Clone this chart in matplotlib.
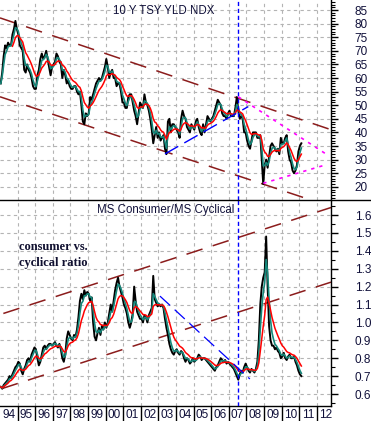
import numpy as np
import pandas as pd
import matplotlib
matplotlib.use("Agg")
import matplotlib.pyplot as plt
from matplotlib.lines import Line2D
from matplotlib.ticker import (MultipleLocator, FixedLocator, FixedFormatter,
                               FormatStrFormatter, NullFormatter)

# 10 year treasury yield x10, monthly, Jan 1994 - Feb 2011
tsy_yield = [
    58, 62, 68, 72, 71, 73, 72, 72, 76, 78, 81, 78,   # 1994
    76, 72, 71, 70, 63, 62, 65, 63, 62, 60, 57, 56,   # 1995
    56, 61, 63, 67, 69, 67, 68, 70, 67, 64, 61, 64,   # 1996
    65, 66, 69, 68, 66, 65, 60, 63, 61, 58, 59, 57,   # 1997
    56, 56, 57, 57, 55, 54, 55, 50, 44, 43, 47, 46,   # 1998
    47, 53, 52, 54, 56, 58, 59, 60, 59, 60, 62, 64,   # 1999
    67, 64, 60, 62, 63, 60, 60, 57, 58, 58, 55, 51,   # 2000
    51, 49, 49, 53, 54, 54, 51, 48, 46, 43, 47, 51,   # 2001
    50, 49, 54, 51, 50, 48, 45, 41, 36, 39, 42, 38,   # 2002
    40, 37, 38, 39, 34, 32, 44, 45, 40, 43, 43, 42,   # 2003
    41, 40, 38, 45, 48, 46, 45, 42, 41, 40, 43, 42,   # 2004
    41, 44, 45, 42, 40, 39, 43, 40, 43, 46, 45, 44,   # 2005
    45, 46, 48, 50, 52, 51, 50, 47, 46, 46, 45, 47,   # 2006
    48, 46, 46, 46, 49, 53, 48, 45, 46, 45, 40, 40,   # 2007
    37, 35, 34, 37, 40, 40, 40, 38, 38, 39, 30, 21,   # 2008
    28, 30, 27, 31, 35, 36, 35, 34, 33, 34, 32, 38,   # 2009
    36, 36, 38, 39, 33, 30, 29, 26, 25, 26, 28, 33,   # 2010
    35, 36,                                           # 2011
]

# MS Consumer / MS Cyclical ratio, monthly, Jan 1994 - Feb 2011
cons_cyc = [
    0.64, 0.63, 0.65, 0.66, 0.67, 0.68, 0.70, 0.69, 0.71, 0.73, 0.75, 0.76,  # 1994
    0.78, 0.77, 0.73, 0.71, 0.74, 0.76, 0.79, 0.80, 0.78, 0.82, 0.84, 0.86,  # 1995
    0.85, 0.80, 0.76, 0.78, 0.82, 0.86, 0.87, 0.85, 0.87, 0.88, 0.88, 0.87,  # 1996
    0.88, 0.89, 0.87, 0.86, 0.88, 0.85, 0.80, 0.78, 0.82, 0.91, 0.95, 0.93,  # 1997
    0.91, 0.90, 0.93, 0.92, 0.96, 1.03, 1.12, 1.16, 1.13, 1.18, 1.15, 1.17,  # 1998
    1.16, 1.12, 1.14, 1.00, 0.92, 0.90, 0.94, 0.97, 0.93, 0.98, 0.96, 1.00,  # 1999
    0.97, 1.00, 1.05, 1.10, 1.06, 1.12, 1.18, 1.22, 1.25, 1.20, 1.17, 1.14,  # 2000
    1.10, 1.08, 1.05, 1.00, 0.97, 1.00, 1.05, 1.20, 1.12, 1.06, 1.04, 1.02,  # 2001
    1.02, 1.00, 1.04, 1.03, 1.00, 1.04, 1.06, 1.08, 1.26, 1.13, 1.11, 1.09,  # 2002
    1.10, 1.09, 1.10, 1.08, 1.02, 0.97, 0.93, 0.88, 0.85, 0.83, 0.82, 0.84,  # 2003
    0.85, 0.83, 0.82, 0.84, 0.83, 0.80, 0.78, 0.80, 0.79, 0.77, 0.78, 0.80,  # 2004
    0.78, 0.79, 0.80, 0.82, 0.81, 0.79, 0.80, 0.80, 0.79, 0.78, 0.77, 0.76,  # 2005
    0.75, 0.74, 0.73, 0.75, 0.76, 0.78, 0.80, 0.79, 0.78, 0.79, 0.77, 0.78,  # 2006
    0.77, 0.76, 0.75, 0.74, 0.72, 0.70, 0.68, 0.71, 0.73, 0.72, 0.75, 0.77,  # 2007
    0.75, 0.73, 0.72, 0.74, 0.73, 0.72, 0.74, 0.78, 0.90, 1.10, 1.20, 1.25,  # 2008
    1.28, 1.48, 1.20, 0.98, 0.90, 0.87, 0.87, 0.85, 0.86, 0.84, 0.83, 0.80,  # 2009
    0.81, 0.83, 0.80, 0.79, 0.81, 0.82, 0.80, 0.80, 0.81, 0.78, 0.76, 0.73,  # 2010
    0.71, 0.70,                                                              # 2011
]

year_labels = ['94', '95', '96', '97', '98', '99', '00', '01', '02', '03',
               '04', '05', '06', '07', '08', '09', '10', '11', '12']

# hand-drawn trend lines: (x pair, y pair)
tsy_chan_hi = ([1994.0, 2012.81], [82.1, 41.0])
tsy_chan_lo = ([1994.0, 2012.81], [53.1, 12.7])
tsy_support = ([2003.375, 2008.11], [32.1, 49.5])
tsy_wedge_hi = ([2007.54, 2012.47], [53.1, 32.3])
tsy_wedge_lo = ([2008.96, 2012.47], [21.3, 28.0])
ratio_chan_hi = ([1994.19, 2012.81], [1.05, 1.642])
ratio_chan_lo = ([1994.1, 2012.81], [0.63, 1.225])
ratio_down = ([2003.09, 2008.2], [1.147, 0.684])
marker_year = 2007.54

months = pd.date_range('1994-01-01', periods=len(tsy_yield), freq='MS')
x = np.asarray(months.year + (months.month - 1) / 12 + 1 / 24)

tsy = pd.Series(tsy_yield, dtype=float)
tsy_fast = tsy.ewm(alpha=0.5).mean()
tsy_slow = tsy.ewm(alpha=0.2).mean()
tsy_slow[:8] = np.nan
rat = pd.Series(cons_cyc, dtype=float)
rat_fast = rat.ewm(alpha=0.5).mean()
rat_slow = rat.ewm(alpha=0.2).mean()

W, H = 371, 421
fig = plt.figure(figsize=(W / 100, H / 100), dpi=100)
fig.patch.set_facecolor('white')
plt.rcParams['font.family'] = ['Liberation Sans', 'DejaVu Sans']

ax1 = fig.add_axes([0, 1 - 200 / H, 331 / W, 200 / H])
ax2 = fig.add_axes([0, 1 - 406 / H, 331 / W, 206 / H])

grid_kw = dict(color='#b4b4b4', linestyle=(0, (3, 3)), linewidth=0.8)
maroon = '#8b1c1c'
chan_style = (0, (11, 7))
txt_col = '#10103a'

for ax in (ax1, ax2):
    ax.set_xlim(1994.0, 2012.81)
    ax.xaxis.set_major_locator(FixedLocator(np.arange(1995, 2013)))
    ax.yaxis.tick_right()
    for s in ('left', 'top'):
        ax.spines[s].set_visible(False)
    ax.spines['right'].set_linewidth(1.0)
    ax.grid(True, which='major', **grid_kw)
    ax.set_axisbelow(True)
    ax.tick_params(axis='y', which='major', length=5, width=1, pad=12,
                   labelsize=8.5, labelcolor=txt_col)
    ax.tick_params(axis='y', which='minor', length=3, width=0.8)
    ax.axvline(marker_year, color='#0000ff', lw=1.0, linestyle=(0, (3, 2)), zorder=5)

# top panel: 10y yield
ax1.set_ylim(15.15, 88.68)
ax1.yaxis.set_major_locator(MultipleLocator(5))
ax1.yaxis.set_minor_locator(MultipleLocator(1))
ax1.spines['bottom'].set_visible(False)
ax1.tick_params(axis='x', length=0, labelbottom=False)

ax1.plot(*tsy_chan_hi, color=maroon, lw=1.1, linestyle=chan_style, zorder=2)
ax1.plot(*tsy_chan_lo, color=maroon, lw=1.1, linestyle=chan_style, zorder=2)
ax1.plot(x, tsy, color='black', lw=1.4, zorder=3)
ax1.plot(x, tsy_fast, color='#15877a', lw=1.2, zorder=4)
ax1.plot(x, tsy_slow, color='#ff0000', lw=1.1, zorder=4)
ax1.plot(*tsy_support, color='#0000ff', lw=1.0, linestyle=(0, (11, 5)), zorder=5)
ax1.plot(*tsy_wedge_hi, color='#ff00ff', lw=1.2, linestyle=(0, (2, 3)), zorder=5)
ax1.plot(*tsy_wedge_lo, color='#ff00ff', lw=1.2, linestyle=(0, (2, 3)), zorder=5)
ax1.text(0.495, 0.945, '10 Y TSY YLD NDX', transform=ax1.transAxes,
         ha='center', va='center', fontsize=8.3, color=txt_col)

# bottom panel: consumer / cyclical ratio
ax2.set_ylim(0.533, 1.684)
ax2.yaxis.set_major_locator(MultipleLocator(0.1))
ax2.yaxis.set_minor_locator(MultipleLocator(0.05))
ax2.yaxis.set_major_formatter(FormatStrFormatter('%.1f'))
ax2.spines['bottom'].set_linewidth(1.0)
ax2.xaxis.set_minor_locator(FixedLocator(np.arange(1994.5, 2013)))
ax2.xaxis.set_major_formatter(NullFormatter())
ax2.xaxis.set_minor_formatter(FixedFormatter(year_labels))
ax2.tick_params(axis='x', which='major', length=15, width=1, direction='out')
ax2.tick_params(axis='x', which='minor', length=0, pad=2, labelsize=8.5,
                labelcolor=txt_col)

ax2.plot(*ratio_chan_hi, color=maroon, lw=1.1, linestyle=chan_style, zorder=2)
ax2.plot(*ratio_chan_lo, color=maroon, lw=1.1, linestyle=chan_style, zorder=2)
ax2.plot(x, rat, color='black', lw=1.4, zorder=3)
ax2.plot(x, rat_fast, color='#15877a', lw=1.2, zorder=4)
ax2.plot(x, rat_slow, color='#ff0000', lw=1.1, zorder=4)
ax2.plot(*ratio_down, color='#0000ff', lw=0.9, linestyle=(0, (11, 5)), zorder=5)
ax2.text(0.5015, 0.951, 'MS Consumer/MS Cyclical', transform=ax2.transAxes,
         ha='center', va='center', fontsize=8.3, color=txt_col)
ax2.text(0.057, 0.772, 'consumer vs.', transform=ax2.transAxes, ha='left', va='center',
         fontsize=9, fontweight='bold', family='Liberation Serif', color='#101030')
ax2.text(0.057, 0.694, 'cyclical ratio', transform=ax2.transAxes, ha='left', va='center',
         fontsize=9, fontweight='bold', family='Liberation Serif', color='#101030')

# separator between the two panels
fig.add_artist(Line2D([0, 1], [1 - 200 / H] * 2, color='black', lw=1.0,
                      transform=fig.transFigure))

fig.savefig('out.png', dpi=100)
